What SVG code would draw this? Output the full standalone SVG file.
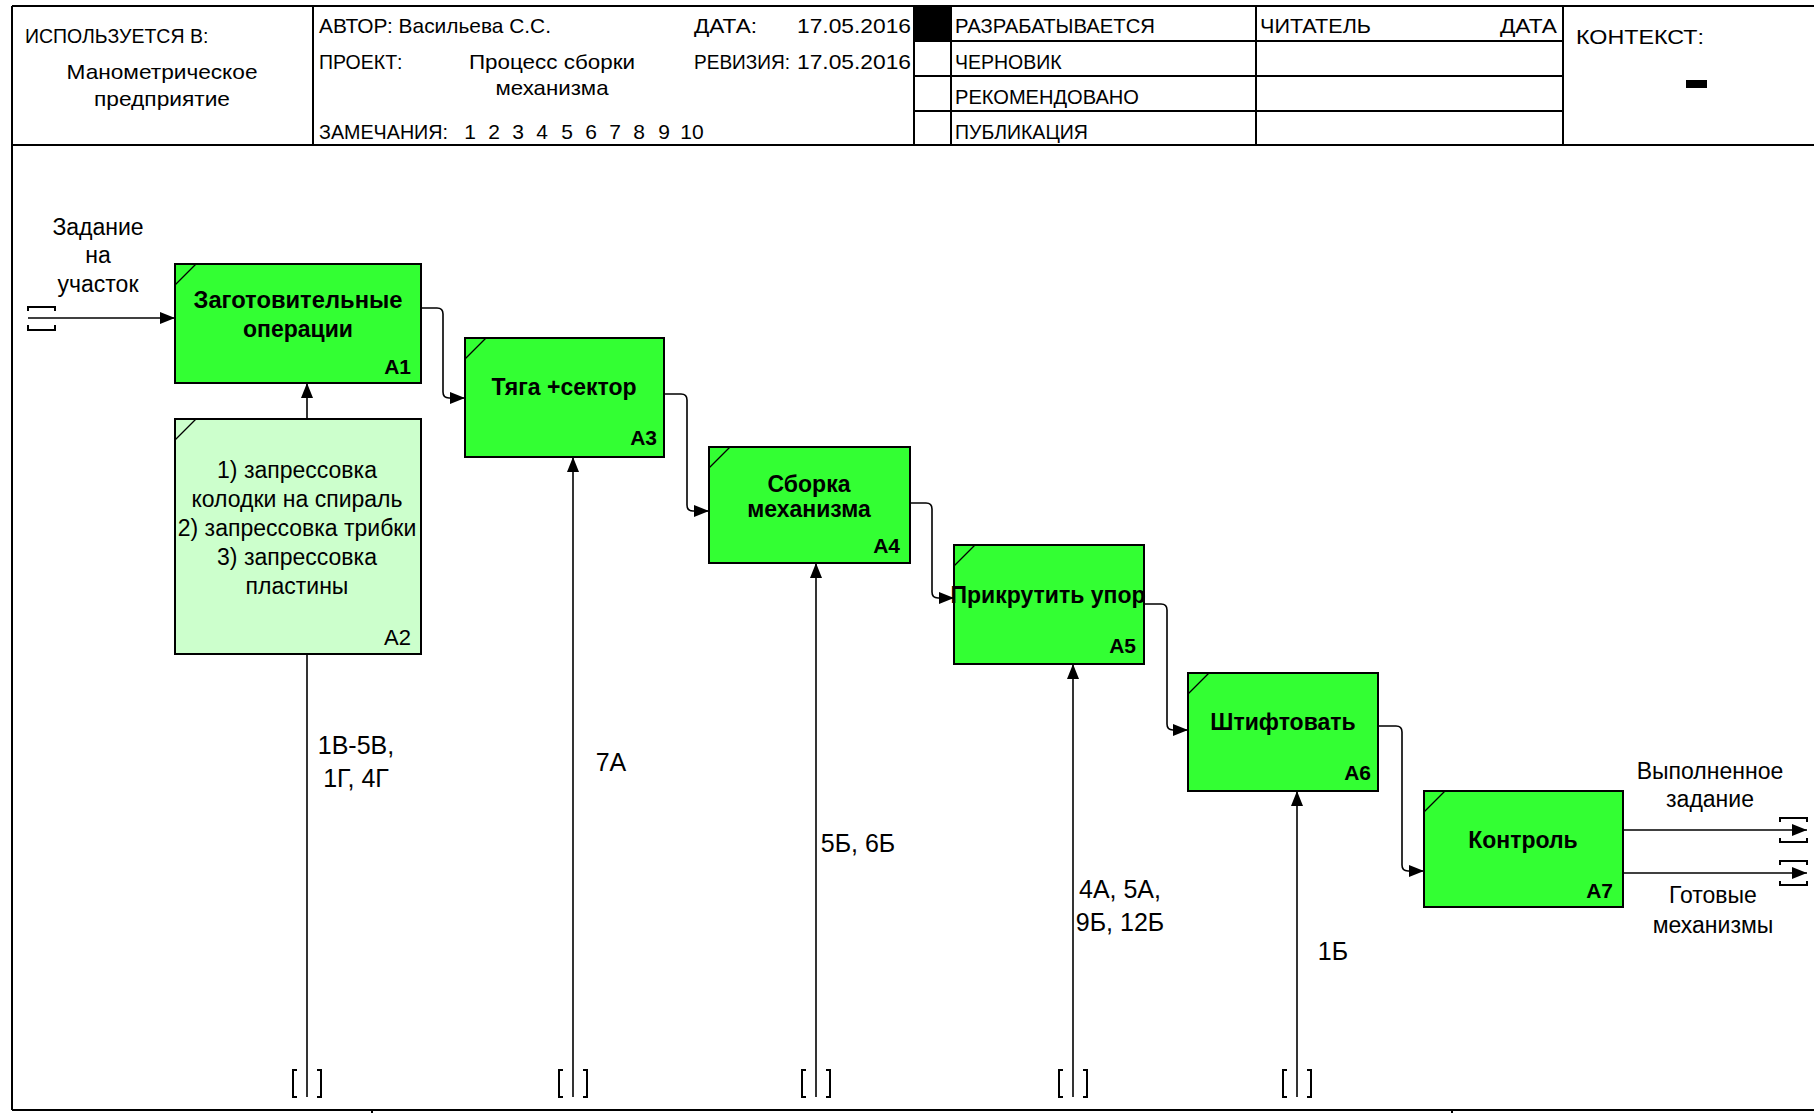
<svg xmlns="http://www.w3.org/2000/svg" width="1814" height="1113" viewBox="0 0 1814 1113">
<style>
text{font-family:"Liberation Sans",Arial,sans-serif;fill:#000}
.hd{font-size:19.5px}
.hm{font-size:21px}
.lbl{font-size:23px}
.lbd{font-size:25px}
.ttl{font-size:23px;font-weight:bold}
.num{font-size:21px;font-weight:bold}
.num2{font-size:22px}
.frame{stroke:#000;stroke-width:2;fill:none}
.box{fill:#33FF33;stroke:#000;stroke-width:2}
.box2{fill:#CCFFCC;stroke:#000;stroke-width:2}
.corner{stroke:#000;stroke-width:1.3}
.cn{fill:none;stroke:#000;stroke-width:1.6}
.br{fill:none;stroke:#000;stroke-width:2}
</style>
<defs>
<marker id="arr" markerUnits="userSpaceOnUse" markerWidth="16" markerHeight="12" refX="15" refY="6" orient="auto">
<path d="M0,0 L15,6 L0,12 Z" fill="#000"/>
</marker>
</defs>
<rect width="1814" height="1113" fill="#fff"/>

<g id="header">
<line class="frame" x1="12" y1="6" x2="1814" y2="6"/>
<line class="frame" x1="12" y1="145" x2="1814" y2="145"/>
<line class="frame" x1="12" y1="6" x2="12" y2="1110"/>
<line class="frame" x1="12" y1="1110" x2="1814" y2="1110"/>
<line class="frame" x1="372" y1="1110" x2="372" y2="1113"/>
<line class="frame" x1="1452" y1="1110" x2="1452" y2="1113"/>
<line class="frame" x1="313" y1="6" x2="313" y2="145"/>
<line class="frame" x1="914" y1="6" x2="914" y2="145"/>
<line class="frame" x1="951" y1="6" x2="951" y2="145"/>
<line class="frame" x1="1256" y1="6" x2="1256" y2="145"/>
<line class="frame" x1="1563" y1="6" x2="1563" y2="145"/>
<line class="frame" x1="914" y1="41" x2="1563" y2="41"/>
<line class="frame" x1="914" y1="76" x2="1563" y2="76"/>
<line class="frame" x1="914" y1="111" x2="1563" y2="111"/>
<rect x="914" y="6" width="37" height="35" fill="#000"/>
<rect x="1686" y="80" width="21" height="8" fill="#000"/>
<text class="hd" x="25" y="43">ИСПОЛЬЗУЕТСЯ В:</text>
<text class="hm" x="162" y="79" text-anchor="middle" textLength="191" lengthAdjust="spacingAndGlyphs">Манометрическое</text>
<text class="hm" x="162" y="106" text-anchor="middle" textLength="136" lengthAdjust="spacingAndGlyphs">предприятие</text>
<text class="hm" x="319" y="33" textLength="232" lengthAdjust="spacingAndGlyphs">АВТОР: Васильева С.С.</text>
<text class="hd" x="319" y="69">ПРОЕКТ:</text>
<text class="hm" x="552" y="69" text-anchor="middle" textLength="166" lengthAdjust="spacingAndGlyphs">Процесс сборки</text>
<text class="hm" x="552" y="95" text-anchor="middle" textLength="113" lengthAdjust="spacingAndGlyphs">механизма</text>
<text class="hd" x="319" y="139"><tspan textLength="129" lengthAdjust="spacingAndGlyphs">ЗАМЕЧАНИЯ:</tspan><tspan class="hm" text-anchor="middle" x="470">1</tspan><tspan class="hm" text-anchor="middle" x="494">2</tspan><tspan class="hm" text-anchor="middle" x="518">3</tspan><tspan class="hm" text-anchor="middle" x="542">4</tspan><tspan class="hm" text-anchor="middle" x="567">5</tspan><tspan class="hm" text-anchor="middle" x="591">6</tspan><tspan class="hm" text-anchor="middle" x="615">7</tspan><tspan class="hm" text-anchor="middle" x="639">8</tspan><tspan class="hm" text-anchor="middle" x="664">9</tspan><tspan class="hm" text-anchor="middle" x="692">10</tspan></text>
<text class="hd" x="694" y="33" textLength="63" lengthAdjust="spacingAndGlyphs">ДАТА:</text>
<text class="hm" x="797" y="33" textLength="114" lengthAdjust="spacingAndGlyphs">17.05.2016</text>
<text class="hd" x="694" y="69" textLength="96" lengthAdjust="spacingAndGlyphs">РЕВИЗИЯ:</text>
<text class="hm" x="797" y="69" textLength="114" lengthAdjust="spacingAndGlyphs">17.05.2016</text>
<text class="hd" x="955" y="33" textLength="200" lengthAdjust="spacingAndGlyphs">РАЗРАБАТЫВАЕТСЯ</text>
<text class="hd" x="955" y="69">ЧЕРНОВИК</text>
<text class="hd" x="955" y="104" textLength="184" lengthAdjust="spacingAndGlyphs">РЕКОМЕНДОВАНО</text>
<text class="hd" x="955" y="139">ПУБЛИКАЦИЯ</text>
<text class="hd" x="1260" y="33" textLength="111" lengthAdjust="spacingAndGlyphs">ЧИТАТЕЛЬ</text>
<text class="hd" x="1500" y="33" textLength="57" lengthAdjust="spacingAndGlyphs">ДАТА</text>
<text class="hm" x="1576" y="44" textLength="128" lengthAdjust="spacingAndGlyphs">КОНТЕКСТ:</text>
</g>

<g id="connectors">
<path class="cn" d="M28,318 H175" marker-end="url(#arr)"/>
<path class="cn" d="M421,308 H437 Q443,308 443,314 V392 Q443,398 449,398 H465" marker-end="url(#arr)"/>
<path class="cn" d="M664,394 H681 Q687,394 687,400 V505 Q687,511 693,511 H709" marker-end="url(#arr)"/>
<path class="cn" d="M910,503 H926 Q932,503 932,509 V592 Q932,598 938,598 H954" marker-end="url(#arr)"/>
<path class="cn" d="M1144,604 H1161 Q1167,604 1167,610 V724 Q1167,730 1173,730 H1188" marker-end="url(#arr)"/>
<path class="cn" d="M1378,726 H1396 Q1402,726 1402,732 V865 Q1402,871 1408,871 H1424" marker-end="url(#arr)"/>
<path class="cn" d="M307,419 V383" marker-end="url(#arr)"/>
<path class="cn" d="M307,1097 V654"/>
<path class="cn" d="M573,1097 V457" marker-end="url(#arr)"/>
<path class="cn" d="M816,1097 V563" marker-end="url(#arr)"/>
<path class="cn" d="M1073,1097 V664" marker-end="url(#arr)"/>
<path class="cn" d="M1297,1097 V791" marker-end="url(#arr)"/>
<path class="cn" d="M1623,830 H1807" marker-end="url(#arr)"/>
<path class="cn" d="M1623,873 H1807" marker-end="url(#arr)"/>
<path class="br" d="M28,311 V307 H55 V311 M28,325 V330 H55 V325"/>
<path class="br" d="M1780,822 V818 H1807 V822 M1780,838 V842 H1807 V838"/>
<path class="br" d="M1780,865 V861 H1807 V865 M1780,881 V885 H1807 V881"/>
<path class="br" d="M297,1070 H293 V1097 H297 M317,1070 H321 V1097 H317"/>
<path class="br" d="M563,1070 H559 V1097 H563 M583,1070 H587 V1097 H583"/>
<path class="br" d="M806,1070 H802 V1097 H806 M826,1070 H830 V1097 H826"/>
<path class="br" d="M1063,1070 H1059 V1097 H1063 M1083,1070 H1087 V1097 H1083"/>
<path class="br" d="M1287,1070 H1283 V1097 H1287 M1307,1070 H1311 V1097 H1307"/>
<text class="lbl" x="98" y="235" text-anchor="middle">Задание</text>
<text class="lbl" x="98" y="263" text-anchor="middle">на</text>
<text class="lbl" x="98" y="292" text-anchor="middle">участок</text>
<text class="lbl" x="1710" y="779" text-anchor="middle">Выполненное</text>
<text class="lbl" x="1710" y="807" text-anchor="middle">задание</text>
<text class="lbl" x="1713" y="903" text-anchor="middle">Готовые</text>
<text class="lbl" x="1713" y="933" text-anchor="middle">механизмы</text>
<text class="lbd" x="356" y="754" text-anchor="middle">1В-5В,</text>
<text class="lbd" x="356" y="787" text-anchor="middle">1Г, 4Г</text>
<text class="lbd" x="611" y="771" text-anchor="middle">7А</text>
<text class="lbd" x="858" y="852" text-anchor="middle">5Б, 6Б</text>
<text class="lbd" x="1120" y="898" text-anchor="middle">4А, 5А,</text>
<text class="lbd" x="1120" y="931" text-anchor="middle">9Б, 12Б</text>
<text class="lbd" x="1333" y="960" text-anchor="middle">1Б</text>
</g>

<g id="A1">
<rect class="box" x="175" y="264" width="246" height="119"/>
<line class="corner" x1="175" y1="285" x2="196" y2="264"/>
<text class="ttl" x="298" y="308" text-anchor="middle" textLength="209" lengthAdjust="spacingAndGlyphs">Заготовительные</text>
<text class="ttl" x="298" y="337" text-anchor="middle">операции</text>
<text class="num" x="411" y="374" text-anchor="end">А1</text>
</g>
<g id="A2">
<rect class="box2" x="175" y="419" width="246" height="235"/>
<line class="corner" x1="175" y1="440" x2="196" y2="419"/>
<text class="lbl" x="297" y="478" text-anchor="middle">1) запрессовка</text>
<text class="lbl" x="297" y="507" text-anchor="middle">колодки на спираль</text>
<text class="lbl" x="297" y="536" text-anchor="middle">2) запрессовка трибки</text>
<text class="lbl" x="297" y="565" text-anchor="middle">3) запрессовка</text>
<text class="lbl" x="297" y="594" text-anchor="middle">пластины</text>
<text class="num2" x="411" y="645" text-anchor="end">А2</text>
</g>
<g id="A3">
<rect class="box" x="465" y="338" width="199" height="119"/>
<line class="corner" x1="465" y1="359" x2="486" y2="338"/>
<text class="ttl" x="564" y="395" text-anchor="middle">Тяга +сектор</text>
<text class="num" x="657" y="445" text-anchor="end">А3</text>
</g>
<g id="A4">
<rect class="box" x="709" y="447" width="201" height="116"/>
<line class="corner" x1="709" y1="468" x2="730" y2="447"/>
<text class="ttl" x="809" y="492" text-anchor="middle">Сборка</text>
<text class="ttl" x="809" y="517" text-anchor="middle">механизма</text>
<text class="num" x="900" y="553" text-anchor="end">А4</text>
</g>
<g id="A5">
<rect class="box" x="954" y="545" width="190" height="119"/>
<line class="corner" x1="954" y1="566" x2="975" y2="545"/>
<text class="ttl" x="1048" y="603" text-anchor="middle">Прикрутить упор</text>
<text class="num" x="1136" y="653" text-anchor="end">А5</text>
</g>
<g id="A6">
<rect class="box" x="1188" y="673" width="190" height="118"/>
<line class="corner" x1="1188" y1="694" x2="1209" y2="673"/>
<text class="ttl" x="1283" y="730" text-anchor="middle">Штифтовать</text>
<text class="num" x="1371" y="780" text-anchor="end">А6</text>
</g>
<g id="A7">
<rect class="box" x="1424" y="791" width="199" height="116"/>
<line class="corner" x1="1424" y1="812" x2="1445" y2="791"/>
<text class="ttl" x="1523" y="848" text-anchor="middle">Контроль</text>
<text class="num" x="1613" y="898" text-anchor="end">А7</text>
</g>
</svg>
